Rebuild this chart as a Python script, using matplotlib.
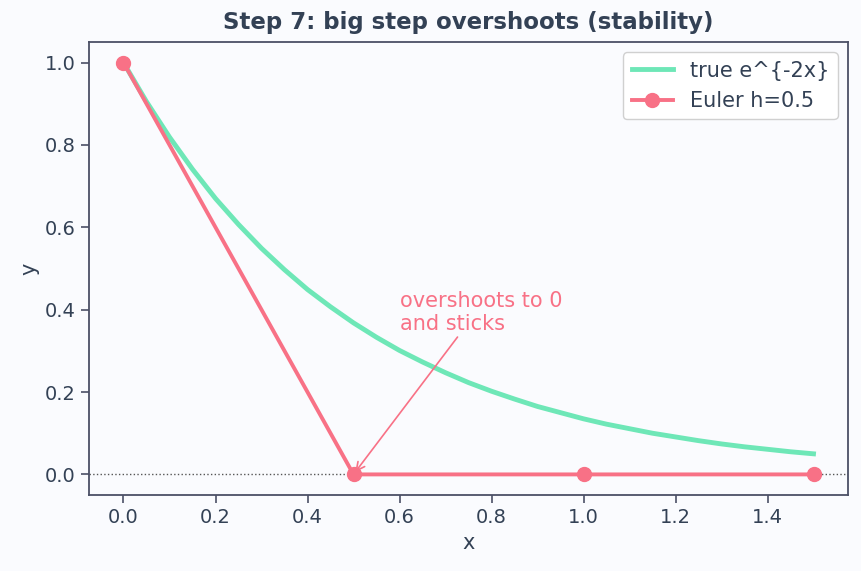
import matplotlib
matplotlib.use("Agg")
import matplotlib.pyplot as plt

# значения
x_true = [0.0, 0.05, 0.1, 0.15, 0.2, 0.25, 0.3, 0.35, 0.4, 0.45, 0.5,
          0.55, 0.6, 0.65, 0.7, 0.75, 0.8, 0.85, 0.9, 0.95, 1.0,
          1.05, 1.1, 1.15, 1.2, 1.25, 1.3, 1.35, 1.4, 1.45, 1.5]
y_true = [1.0, 0.905, 0.819, 0.741, 0.670, 0.607, 0.549, 0.497, 0.449, 0.407, 0.368,
          0.333, 0.301, 0.273, 0.247, 0.223, 0.202, 0.183, 0.165, 0.150, 0.135,
          0.122, 0.111, 0.100, 0.091, 0.082, 0.074, 0.067, 0.061, 0.055, 0.050]

x_euler = [0.0, 0.5, 1.0, 1.5]
y_euler = [1.0, 0.0, 0.0, 0.0]

x_ticks = [0.0, 0.2, 0.4, 0.6, 0.8, 1.0, 1.2, 1.4]
y_ticks = [0.0, 0.2, 0.4, 0.6, 0.8, 1.0]

text_color = "#334155"
spine_color = "#4b5066"
green = "#6ee7b7"
red = "#f87186"

plt.rcParams["font.family"] = "DejaVu Sans"

fig = plt.figure(figsize=(8.62, 5.71), dpi=100, facecolor="#fafbfe")
ax = fig.add_axes([89 / 862, 1 - 495 / 571, (848 - 89) / 862, (495 - 42) / 571])
ax.set_facecolor("#fafbfe")

ax.axhline(0, color="#555555", linestyle=":", linewidth=1, zorder=1)
ax.plot(x_true, y_true, color=green, linewidth=3.5, label="true e^{-2x}", zorder=2)
ax.plot(x_euler, y_euler, color=red, linewidth=2.8, marker="o", markersize=10,
        label="Euler h=0.5", zorder=3)

ax.annotate("overshoots to 0\nand sticks", xy=(0.5, 0.0), xytext=(0.6, 0.35),
            color=red, fontsize=15,
            arrowprops=dict(arrowstyle="->", color=red, lw=1.2,
                            shrinkA=0, shrinkB=2,
                            relpos=(0.37, 0.0)))

ax.set_xlim(-0.075, 1.575)
ax.set_ylim(-0.05, 1.05)
ax.set_xticks(x_ticks)
ax.set_yticks(y_ticks)
ax.tick_params(colors=text_color, labelsize=14, length=6, width=1.2,
               color=spine_color)
for s in ax.spines.values():
    s.set_color(spine_color)
    s.set_linewidth(1.3)

ax.set_xlabel("x", fontsize=15, color=text_color)
ax.set_ylabel("y", fontsize=15, color=text_color)
ax.set_title("Step 7: big step overshoots (stability)", fontsize=16.5,
             fontweight="bold", color=text_color, pad=9)

leg = ax.legend(loc="upper right", fontsize=15, labelcolor=text_color,
                facecolor="white", edgecolor="#d0d0d0", framealpha=1)

fig.savefig("out.png", dpi=100, facecolor=fig.get_facecolor())
